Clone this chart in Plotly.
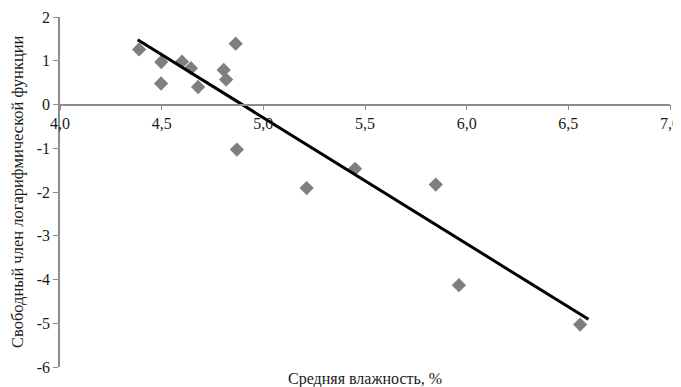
import plotly.graph_objects as go

humidity = [4.389, 4.497, 4.498, 4.600, 4.644, 4.679, 4.805, 4.817, 4.864, 4.870,
            5.213, 5.451, 5.848, 5.962, 6.558]
intercept = [1.26, 0.48, 0.97, 0.98, 0.83, 0.40, 0.79, 0.57, 1.39, -1.03,
             -1.91, -1.47, -1.83, -4.13, -5.03]
trend_x = [4.382, 6.599]
trend_y = [1.48, -4.91]

x_ticks = [4.0, 4.5, 5.0, 5.5, 6.0, 6.5, 7.0]
x_tick_labels = ["4,0", "4,5", "5,0", "5,5", "6,0", "6,5", "7,0"]
y_ticks = [2, 1, 0, -1, -2, -3, -4, -5, -6]
y_tick_labels = ["2", "1", "0", "-1", "-2", "-3", "-4", "-5", "-6"]

font = "Liberation Serif"
axis_col = "#8c8c8c"

fig = go.Figure()
fig.add_trace(go.Scatter(x=humidity, y=intercept, mode="markers",
                         marker=dict(symbol="diamond", size=11, color="#7f7f7f"),
                         showlegend=False))
fig.add_trace(go.Scatter(x=trend_x, y=trend_y, mode="lines",
                         line=dict(color="black", width=3), showlegend=False))

fig.update_layout(
    width=673, height=379,
    margin=dict(l=52, r=11, t=9, b=20, autoexpand=False),
    paper_bgcolor="white", plot_bgcolor="white",
    font=dict(family=font, size=16, color="#1a1a1a"),
    xaxis=dict(range=[4.0, 7.0], tickvals=x_ticks, ticktext=x_tick_labels,
               showgrid=False, zeroline=False, showline=True, linecolor=axis_col,
               linewidth=1.5, ticks="outside", ticklen=5, tickcolor=axis_col,
               anchor="free", position=0.75, automargin=False,
               tickfont=dict(family=font, size=16, color="#1a1a1a")),
    yaxis=dict(range=[-6, 2], tickvals=y_ticks, ticktext=y_tick_labels,
               showgrid=False, zeroline=False, showline=True, linecolor=axis_col,
               linewidth=1.5, ticks="outside", ticklen=5, tickcolor=axis_col,
               automargin=False,
               tickfont=dict(family=font, size=16, color="#1a1a1a")),
    annotations=[
        dict(text="Средняя влажность, %", xref="paper", yref="paper", x=0.5, y=0,
             yshift=-1, xanchor="center", yanchor="top", showarrow=False,
             font=dict(family=font, size=16)),
        dict(text="Свободный член логарифмической функции", xref="paper", yref="paper",
             x=0, y=0.5, xshift=-43, xanchor="center", yanchor="middle",
             textangle=-90, showarrow=False, font=dict(family=font, size=16.5)),
    ],
)

fig.write_html("out.html")
